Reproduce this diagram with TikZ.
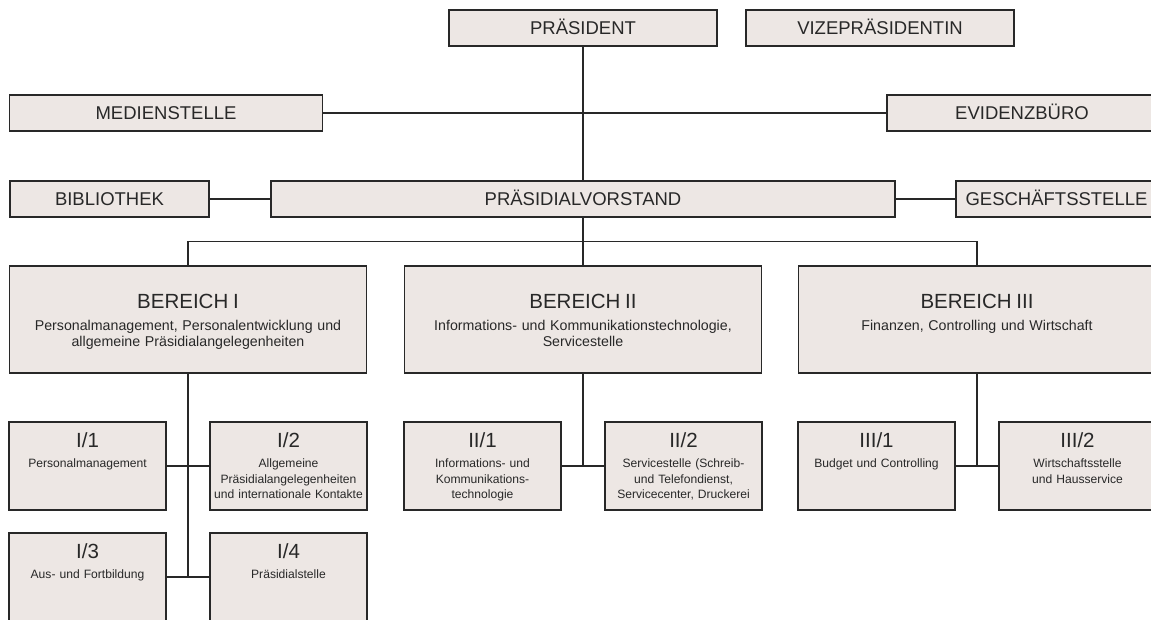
\documentclass[tikz,border=0pt]{standalone}
\usepackage{fontspec}
\setmainfont{Liberation Sans}
\definecolor{boxfill}{RGB}{237,231,228}
\definecolor{ink}{RGB}{40,40,40}
\newcommand{\unittitle}[1]{{\fontsize{20.5}{22}\selectfont #1}}

\begin{document}
\begin{tikzpicture}[x=1pt,y=-1pt,
  box/.style={draw=ink,fill=boxfill,line width=1.2pt,text=ink,inner sep=0pt,
    minimum height=36pt,font=\fontsize{18.5}{20}\selectfont,text height=13.3pt,text depth=0pt},
  bereich/.style={box,minimum width=357pt,text width=350pt,align=center,
    font=\fontsize{14.2}{16}\selectfont,text height=42pt,text depth=65pt},
  unit/.style={box,minimum width=157pt,text width=154pt,align=center,
    font=\fontsize{12.1}{15.5}\selectfont,text height=25.5pt,text depth=62.5pt},
  link/.style={draw=ink,line width=1.2pt}]
  \useasboundingbox (0,0) rectangle (1151,619);
  % helper grid: comment for final drawing
  % \draw[help lines,step=50] (0,0) grid (1151,619);
  % top level
  \node[box,minimum width=268pt] (pres)     at (583,28)    {PRÄSIDENT};
  \node[box,minimum width=268pt] (vize)     at (880,28)    {VIZEPRÄSIDENTIN};
  \node[box,minimum width=313pt] (medien)   at (166,113)   {MEDIENSTELLE};
  \node[box,minimum width=270pt] (evidenz)  at (1022,113)  {EVIDENZBÜRO};
  \node[box,minimum width=199pt] (biblio)   at (109.5,199) {BIBLIOTHEK};
  \node[box,minimum width=624pt] (vorstand) at (583,199)   {PRÄSIDIALVORSTAND};
  \node[box,minimum width=201pt] (gesch)    at (1056.5,199) {GESCHÄFTSSTELLE};
  % bereiche
  \node[bereich] (bereich1) at (188,319.5)
    {\unittitle{BEREICH I}\\[6pt]Personalmanagement, Personalentwicklung und\\allgemeine Präsidialangelegenheiten};
  \node[bereich] (bereich2) at (583,319.5)
    {\unittitle{BEREICH II}\\[6pt]Informations- und Kommunikationstechnologie,\\Servicestelle};
  \node[bereich] (bereich3) at (977,319.5)
    {\unittitle{BEREICH III}\\[6pt]Finanzen, Controlling und Wirtschaft};
  % referate
  \node[unit] (i1)   at (87.5,466)   {\unittitle{I/1}\\[4.5pt]Personalmanagement};
  \node[unit] (i2)   at (288.5,466)  {\unittitle{I/2}\\[4.5pt]Allgemeine\\Präsidialangelegenheiten\\und internationale Kontakte};
  \node[unit] (i3)   at (87.5,577)   {\unittitle{I/3}\\[4.5pt]Aus- und Fortbildung};
  \node[unit] (i4)   at (288.5,577)  {\unittitle{I/4}\\[4.5pt]Präsidialstelle};
  \node[unit] (ii1)  at (482.5,466)  {\unittitle{II/1}\\[4.5pt]Informations- und\\Kommunikations-\\technologie};
  \node[unit] (ii2)  at (683.5,466)  {\unittitle{II/2}\\[4.5pt]Servicestelle (Schreib-\\und Telefondienst,\\Servicecenter, Druckerei};
  \node[unit] (iii1) at (876.5,466)  {\unittitle{III/1}\\[4.5pt]Budget und Controlling};
  \node[unit] (iii2) at (1077.5,466) {\unittitle{III/2}\\[4.5pt]Wirtschaftsstelle\\und Hausservice};
  % connectors
  \draw[link] (pres) -- (vorstand);
  \draw[link] (medien) -- (evidenz);
  \draw[link] (biblio) -- (vorstand);
  \draw[link] (vorstand) -- (gesch);
  \draw[link] (vorstand) -- (bereich2);
  \draw[link] (bereich1.north) -- ++(0,-24) -| (bereich3.north);
  \draw[link] (bereich1.south) -- (bereich1.south |- i3);
  \draw[link] (bereich2.south) -- (bereich2.south |- ii1);
  \draw[link] (bereich3.south) -- (bereich3.south |- iii1);
  \draw[link] (i1) -- (i2);
  \draw[link] (i3) -- (i4);
  \draw[link] (ii1) -- (ii2);
  \draw[link] (iii1) -- (iii2);
\end{tikzpicture}
\end{document}
